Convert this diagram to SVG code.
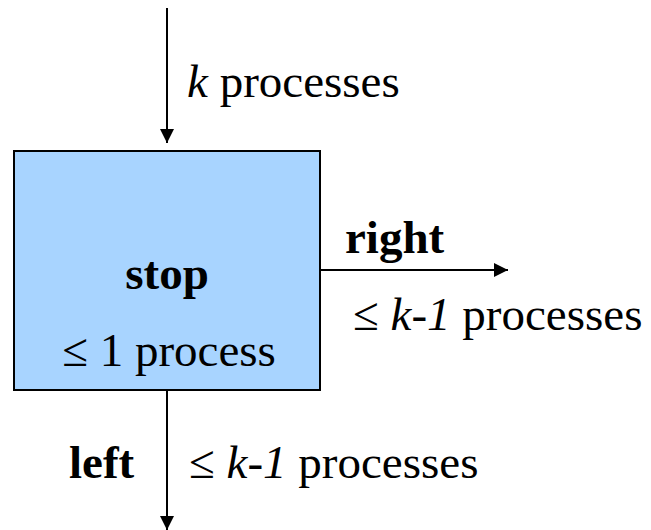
<svg xmlns="http://www.w3.org/2000/svg" width="651" height="530" viewBox="0 0 651 530">
<style>
text{font-family:"Liberation Serif","Times New Roman",serif;font-size:47px;fill:#000}
.b{font-weight:bold}
.i{font-style:italic}
.c{stroke:#000;stroke-width:2;fill:none}
</style>
<defs>
<marker id="ah" markerWidth="14" markerHeight="14" refX="14" refY="7" orient="auto" markerUnits="userSpaceOnUse">
<path d="M0,0 L14,7 L0,14 Z" fill="#000"/>
</marker>
</defs>
<rect width="651" height="530" fill="#fff"/>
<g id="connectors">
<line class="c" x1="167" y1="8" x2="167" y2="143" marker-end="url(#ah)"/>
<line class="c" x1="320" y1="270" x2="508" y2="270" marker-end="url(#ah)"/>
<line class="c" x1="167" y1="390" x2="167" y2="530" marker-end="url(#ah)"/>
</g>
<g id="stop">
<rect x="14" y="151" width="306" height="239" fill="#a8d4ff" stroke="#000" stroke-width="2"/>
<text class="b" x="167" y="289" text-anchor="middle">stop</text>
<text x="169" y="366" text-anchor="middle">≤ 1 process</text>
</g>
<g id="labels">
<text x="187" y="97"><tspan class="i">k</tspan> processes</text>
<text class="b" x="345" y="253">right</text>
<text x="353" y="330">≤ <tspan class="i">k-1</tspan> processes</text>
<text class="b" x="69" y="478">left</text>
<text x="189" y="478">≤ <tspan class="i">k-1</tspan> processes</text>
</g>
</svg>
